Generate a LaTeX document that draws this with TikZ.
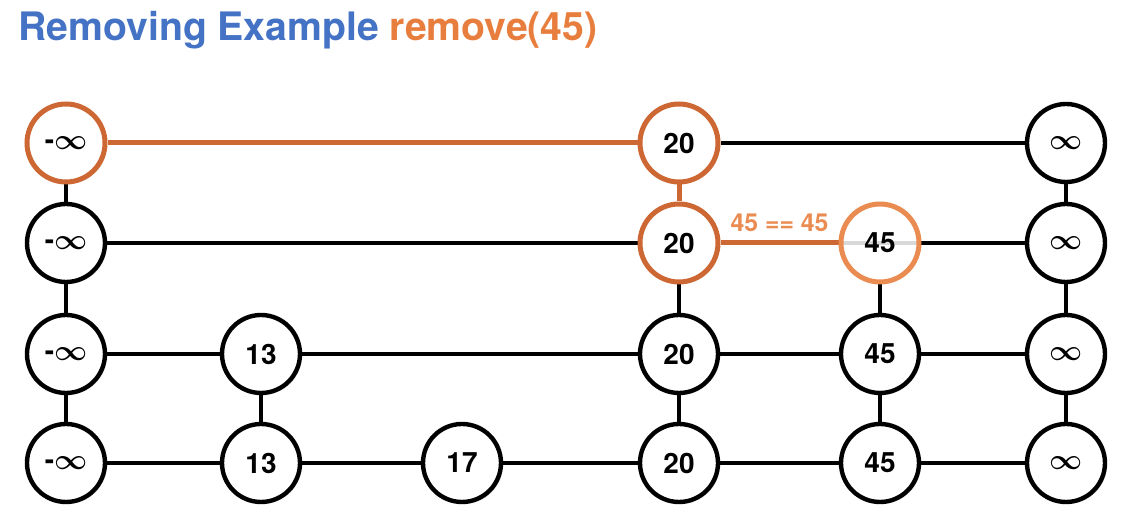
\documentclass[tikz,border=0pt]{standalone}
\usepackage{fontspec}
\setmainfont{TeX Gyre Heros}
\usepackage{xcolor}
\usetikzlibrary{backgrounds,shadows}
\definecolor{ttlblue}{RGB}{68,114,196}
\definecolor{ttlorange}{RGB}{232,126,62}
\definecolor{hitorange}{RGB}{205,104,52}
\definecolor{lightorange}{RGB}{234,140,82}

\tikzset{
  plainkey/.style={circle, draw=black, line width=2.2pt, fill=white, minimum size=39pt,
              inner sep=0pt, font=\bfseries\boldmath\fontsize{14}{16}\selectfont},
  key/.style={plainkey,
              drop shadow={shadow xshift=1pt, shadow yshift=-1pt, opacity=0.18}},
  hit/.style={key, draw=hitorange, line width=2.5pt},
  link/.style={line width=2.2pt, black},
  hitlink/.style={line width=2.5pt, hitorange}
}

\begin{document}
\begin{tikzpicture}[x=0.5pt, y=-0.5pt]
  \useasboundingbox (0,0) rectangle (1148,512);

  % title
  \node[anchor=base west, inner sep=0pt, font=\bfseries\fontsize{19.6}{22}\selectfont]
    (title) at (18,41) {\color{ttlblue}Removing Example \color{ttlorange}remove(45)};

  % left sentinels
  \node[hit] (minf-3) at (66,143) {-$\infty$};
  \node[key] (minf-2) at (66,243) {-$\infty$};
  \node[key] (minf-1) at (66,354) {-$\infty$};
  \node[key] (minf-0) at (66,463) {-$\infty$};

  % keys
  \node[key] (n13-1) at (261,354) {13};
  \node[key] (n13-0) at (261,463) {13};
  \node[key] (n17-0) at (462,463) {17};
  \node[hit] (n20-3) at (679,143) {20};
  \node[hit] (n20-2) at (679,243) {20};
  \node[key] (n20-1) at (679,354) {20};
  \node[key] (n20-0) at (679,463) {20};
  \node[plainkey, draw=lightorange, line width=2.5pt, fill opacity=0.85, text opacity=1]
    (n45-2) at (880,243) {45};
  \node[key] (n45-1) at (880,354) {45};
  \node[key] (n45-0) at (880,463) {45};

  % right sentinels
  \node[key] (inf-3) at (1066,143) {$\infty$};
  \node[key] (inf-2) at (1066,243) {$\infty$};
  \node[key] (inf-1) at (1066,354) {$\infty$};
  \node[key] (inf-0) at (1066,463) {$\infty$};

  \begin{scope}[on background layer]
    % top level
    \draw[hitlink] (minf-3) -- (n20-3);
    \draw[link] (n20-3) -- (inf-3);
    % level 2
    \draw[link] (minf-2) -- (n20-2);
    \draw[hitlink] (n20-2) -- node[above=1pt, text=lightorange,
      font=\bfseries\fontsize{12.4}{14}\selectfont] (cmp) {45 == 45} (n45-2);
    \draw[link] (n45-2.west) -- (inf-2);
    % level 1
    \draw[link] (minf-1) -- (n13-1) -- (n20-1) -- (n45-1) -- (inf-1);
    % level 0
    \draw[link] (minf-0) -- (n13-0) -- (n17-0) -- (n20-0) -- (n45-0) -- (inf-0);
    % towers
    \draw[link] (minf-3) -- (minf-2) -- (minf-1) -- (minf-0);
    \draw[link] (n13-1) -- (n13-0);
    \draw[hitlink] (n20-3) -- (n20-2);
    \draw[link] (n20-2) -- (n20-1) -- (n20-0);
    \draw[link] (n45-2) -- (n45-1) -- (n45-0);
    \draw[link] (inf-3) -- (inf-2) -- (inf-1) -- (inf-0);
  \end{scope}
\end{tikzpicture}
\end{document}
